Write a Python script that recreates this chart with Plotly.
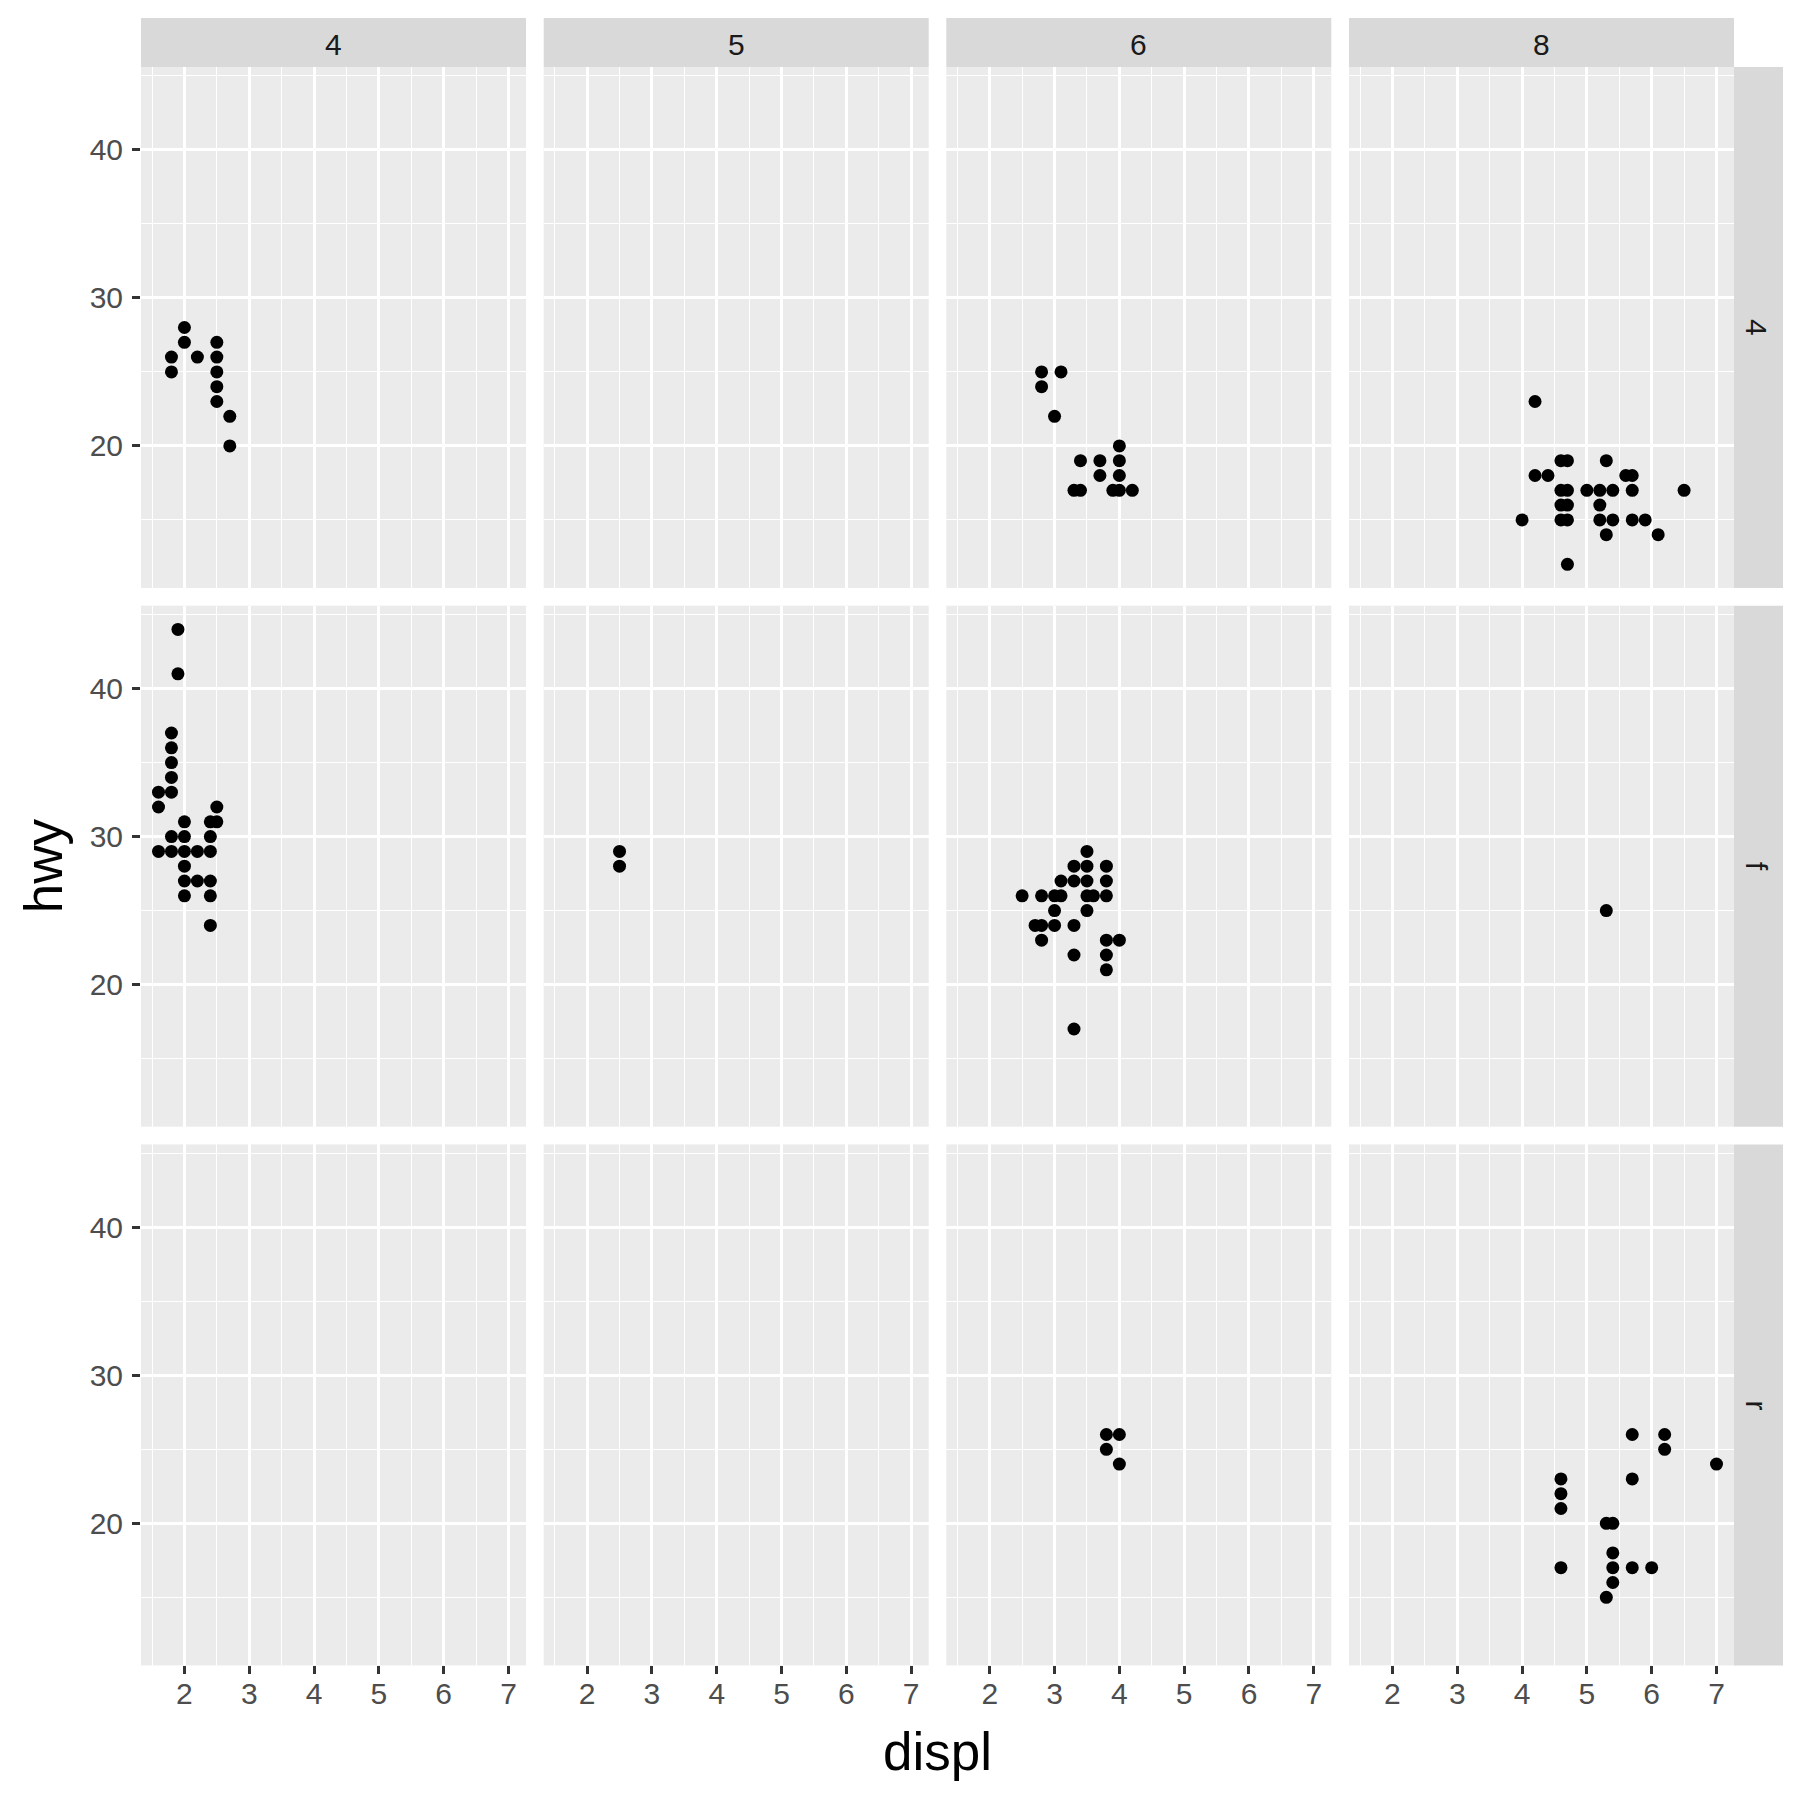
import plotly.graph_objects as go

# facet levels
cyl_levels = ["4", "5", "6", "8"]
drv_levels = ["4", "f", "r"]

# drv = 4
displ_4_c4 = [1.8, 1.8, 2.0, 2.0, 2.2, 2.5, 2.5, 2.5, 2.5, 2.5, 2.7, 2.7]
hwy_4_c4 = [26, 25, 28, 27, 26, 27, 26, 25, 24, 23, 22, 20]
displ_4_c6 = [2.8, 2.8, 3.1, 3.0, 4.0, 3.4, 3.7, 4.0, 3.7, 4.0, 3.3, 3.4, 3.9, 4.0, 4.2]
hwy_4_c6 = [25, 24, 25, 22, 20, 19, 19, 19, 18, 18, 17, 17, 17, 17, 17]
displ_4_c8 = [4.2, 4.6, 4.7, 5.3, 4.2, 4.4, 5.6, 5.7, 4.6, 4.7, 5.0, 5.2, 5.4, 5.7,
              6.5, 4.6, 4.7, 5.2, 4.0, 4.6, 4.7, 5.2, 5.4, 5.7, 5.9, 5.3, 6.1, 4.7]
hwy_4_c8 = [23, 19, 19, 19, 18, 18, 18, 18, 17, 17, 17, 17, 17, 17,
            17, 16, 16, 16, 15, 15, 15, 15, 15, 15, 15, 14, 14, 12]

# drv = f
displ_f_c4 = [1.9, 1.9, 1.8, 1.8, 1.8, 1.8, 1.8, 1.6, 1.6, 2.5, 2.0, 2.4, 2.5, 1.8,
              2.0, 2.4, 1.6, 1.8, 2.0, 2.2, 2.4, 2.0, 2.0, 2.2, 2.4, 2.0, 2.4, 2.4]
hwy_f_c4 = [44, 41, 37, 36, 35, 34, 33, 33, 32, 32, 31, 31, 31, 30,
            30, 30, 29, 29, 29, 29, 29, 28, 27, 27, 27, 26, 26, 24]
displ_f_c5 = [2.5, 2.5]
hwy_f_c5 = [29, 28]
displ_f_c6 = [3.5, 3.3, 3.5, 3.8, 3.1, 3.3, 3.5, 3.8, 2.5, 2.8, 3.0, 3.1, 3.5, 3.6,
              3.8, 3.0, 3.5, 2.7, 2.8, 3.0, 3.3, 2.8, 3.8, 4.0, 3.3, 3.8, 3.8, 3.3]
hwy_f_c6 = [29, 28, 28, 28, 27, 27, 27, 27, 26, 26, 26, 26, 26, 26,
            26, 25, 25, 24, 24, 24, 24, 23, 23, 23, 22, 22, 21, 17]
displ_f_c8 = [5.3]
hwy_f_c8 = [25]

# drv = r
displ_r_c6 = [3.8, 4.0, 3.8, 4.0]
hwy_r_c6 = [26, 26, 25, 24]
displ_r_c8 = [5.7, 6.2, 6.2, 7.0, 4.6, 5.7, 4.6, 4.6, 5.3, 5.4, 5.4, 4.6, 5.4, 5.7, 6.0, 5.4, 5.3]
hwy_r_c8 = [26, 26, 25, 24, 23, 23, 22, 21, 20, 20, 18, 17, 17, 17, 17, 16, 15]

x_ticks = [2, 3, 4, 5, 6, 7]
x_minor = [1.5, 2.5, 3.5, 4.5, 5.5, 6.5]
y_ticks = [20, 30, 40]
y_minor = [15, 25, 35, 45]

panels = {
    ("4", "4"): (displ_4_c4, hwy_4_c4),
    ("4", "6"): (displ_4_c6, hwy_4_c6),
    ("4", "8"): (displ_4_c8, hwy_4_c8),
    ("f", "4"): (displ_f_c4, hwy_f_c4),
    ("f", "5"): (displ_f_c5, hwy_f_c5),
    ("f", "6"): (displ_f_c6, hwy_f_c6),
    ("f", "8"): (displ_f_c8, hwy_f_c8),
    ("r", "6"): (displ_r_c6, hwy_r_c6),
    ("r", "8"): (displ_r_c8, hwy_r_c8),
}

# the page body has an 8px margin, so the figure is drawn 8px in from the window corner
OFF = 8
W = H = 1784
col_left = [141 - OFF, 543.7 - OFF, 946.3 - OFF, 1349 - OFF]
panel_w = 385
row_top = [67 - OFF, 605.7 - OFF, 1144.4 - OFF]
panel_h = 521
strip = 49

FONT = "Liberation Sans, Arial, sans-serif"
GRID = "#FFFFFF"

fig = go.Figure()
layout = {}
annotations = []
shapes = []

for r, drv in enumerate(drv_levels):
    for c, cyl in enumerate(cyl_levels):
        k = r * 4 + c + 1
        xa = "x" if k == 1 else f"x{k}"
        ya = "y" if k == 1 else f"y{k}"
        xd = [col_left[c] / W, (col_left[c] + panel_w) / W]
        yd = [1 - (row_top[r] + panel_h) / H, 1 - row_top[r] / H]
        bottom = r == len(drv_levels) - 1
        left = c == 0
        layout["xaxis" if k == 1 else f"xaxis{k}"] = dict(
            domain=xd, anchor=ya, range=[1.33, 7.27],
            tickvals=x_ticks, ticktext=[str(v) for v in x_ticks],
            showgrid=True, gridcolor=GRID, gridwidth=2.7,
            minor=dict(tickvals=x_minor, showgrid=True, gridcolor=GRID, gridwidth=1.3, ticks=""),
            zeroline=False, showline=False,
            ticks="outside" if bottom else "", ticklen=8, tickwidth=2.5, tickcolor="#333333",
            showticklabels=bottom, tickfont=dict(family=FONT, size=30, color="#4D4D4D"),
            ticklabelstandoff=-6,
        )
        layout["yaxis" if k == 1 else f"yaxis{k}"] = dict(
            domain=yd, anchor=xa, range=[10.4, 45.6],
            tickvals=y_ticks, ticktext=[str(v) for v in y_ticks],
            showgrid=True, gridcolor=GRID, gridwidth=2.7,
            minor=dict(tickvals=y_minor, showgrid=True, gridcolor=GRID, gridwidth=1.3, ticks=""),
            zeroline=False, showline=False,
            ticks="outside" if left else "", ticklen=8, tickwidth=2.5, tickcolor="#333333",
            showticklabels=left, tickfont=dict(family=FONT, size=30, color="#4D4D4D"),
            ticklabelstandoff=3,
        )
        xs, ys = panels.get((drv, cyl), ([None], [None]))
        fig.add_trace(go.Scatter(
            x=xs, y=ys, mode="markers", xaxis=xa, yaxis=ya,
            marker=dict(color="black", size=13, line=dict(width=0)),
            showlegend=False, hoverinfo="skip",
        ))

# top strips (cyl)
for c, cyl in enumerate(cyl_levels):
    x0, x1 = col_left[c] / W, (col_left[c] + panel_w) / W
    shapes.append(dict(type="rect", xref="paper", yref="paper", x0=x0, x1=x1,
                       y0=1 - row_top[0] / H, y1=1 - (row_top[0] - strip) / H,
                       fillcolor="#D9D9D9", line=dict(width=0), layer="below"))
    annotations.append(dict(text=cyl, xref="paper", yref="paper", x=(x0 + x1) / 2,
                            y=1 - (row_top[0] - strip / 2 + 2) / H, showarrow=False,
                            xanchor="center", yanchor="middle",
                            font=dict(family=FONT, size=30, color="#1A1A1A")))

# right strips (drv)
right = col_left[3] + panel_w
for r, drv in enumerate(drv_levels):
    y0, y1 = 1 - (row_top[r] + panel_h) / H, 1 - row_top[r] / H
    shapes.append(dict(type="rect", xref="paper", yref="paper", x0=right / W,
                       x1=(right + strip) / W, y0=y0, y1=y1,
                       fillcolor="#D9D9D9", line=dict(width=0), layer="below"))
    annotations.append(dict(text=drv, xref="paper", yref="paper",
                            x=(right + strip / 2 - 2) / W, y=(y0 + y1) / 2, showarrow=False,
                            textangle=90, xanchor="center", yanchor="middle",
                            font=dict(family=FONT, size=30, color="#1A1A1A")))

# axis titles
annotations.append(dict(text="displ", xref="paper", yref="paper",
                        x=(col_left[0] + right) / 2 / W, y=1 - (1751 - OFF) / H, showarrow=False,
                        xanchor="center", yanchor="middle",
                        font=dict(family=FONT, size=53, color="black")))
annotations.append(dict(text="hwy", xref="paper", yref="paper",
                        x=(43 - OFF) / W, y=1 - (row_top[0] + row_top[2] + panel_h) / 2 / H,
                        showarrow=False, textangle=-90, xanchor="center", yanchor="middle",
                        font=dict(family=FONT, size=53, color="black")))

fig.update_layout(
    width=W, height=H,
    margin=dict(l=0, r=0, t=0, b=0),
    paper_bgcolor="white", plot_bgcolor="#EBEBEB",
    font=dict(family=FONT),
    showlegend=False,
    shapes=shapes, annotations=annotations,
    **layout,
)

fig.write_html("out.html")
